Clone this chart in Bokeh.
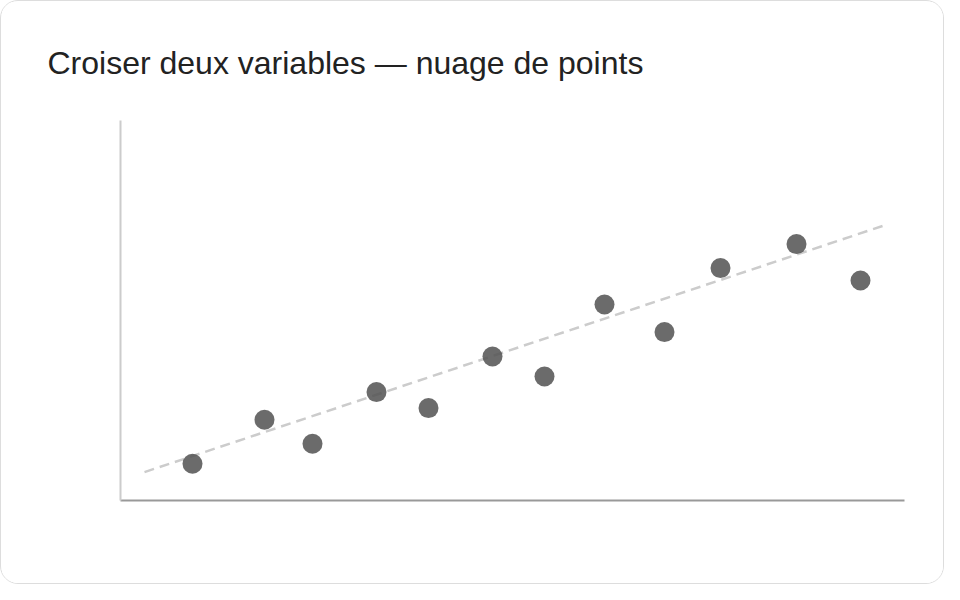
from bokeh.plotting import figure
from bokeh.models import Range1d
from bokeh.embed import file_html
from bokeh.resources import INLINE

# Data
x_vals = [9, 18, 24, 32, 38.5, 46.5, 53, 60.5, 68, 75, 84.5, 92.5]
y_vals = [9.2, 20.2, 14.2, 27.1, 23.1, 36.0, 31.0, 49.0, 42.1, 58.1, 64.1, 55.0]
trend_x = [3.0, 95.8]
trend_y = [7.1, 69.0]
title_text = "Croiser deux variables — nuage de points"

p = figure(
    width=944, height=584,
    x_range=Range1d(0, 98), y_range=Range1d(0, 95),
    output_backend="svg", toolbar_location=None,
    min_border_left=119, min_border_right=41,
    min_border_top=119, min_border_bottom=85,
    title=title_text,
)
p.styles = {"border": "1px solid #dddddd", "border-radius": "18px", "overflow": "hidden"}
p.background_fill_color = "white"
p.border_fill_color = "white"
p.outline_line_color = None

p.title.text_font = "Liberation Sans"
p.title.text_font_size = "32px"
p.title.text_font_style = "normal"
p.title.text_color = "#222222"
p.title.align = "left"
p.title.offset = -73
p.title.standoff = 79

p.xgrid.visible = False
p.ygrid.visible = False
for ax, col in ((p.xaxis, "#999999"), (p.yaxis, "#cccccc")):
    ax.axis_line_color = col
    ax.axis_line_width = 2
    ax.major_tick_line_color = None
    ax.minor_tick_line_color = None
    ax.major_label_text_font_size = "0px"
    ax.major_label_text_color = None

p.line(trend_x, trend_y, line_color="#cccccc", line_width=2.5, line_dash="10 6")
p.scatter(x_vals, y_vals, size=20, fill_color="#515151", fill_alpha=0.85, line_color=None)

open("out.html", "w").write(file_html(p, INLINE))
